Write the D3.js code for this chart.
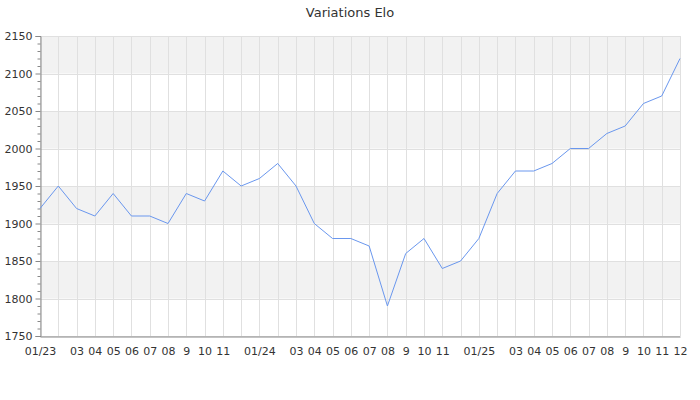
<!DOCTYPE html>
<html><head><meta charset="utf-8">
<script src="https://cdn.jsdelivr.net/npm/d3@7"></script>
<style>body{margin:0;background:#fff;font-family:"DejaVu Sans",sans-serif;}</style>
</head><body>
<svg id="c" width="700" height="400"></svg>
<script>
const months = ["01/23","02/23","03/23","04/23","05/23","06/23","07/23","08/23","09/23","10/23","11/23","12/23",
"01/24","02/24","03/24","04/24","05/24","06/24","07/24","08/24","09/24","10/24","11/24","12/24",
"01/25","02/25","03/25","04/25","05/25","06/25","07/25","08/25","09/25","10/25","11/25","12/25"];
const tickLabels = ["01/23","","03","04","05","06","07","08","9","10","11","",
"01/24","","03","04","05","06","07","08","9","10","11","",
"01/25","","03","04","05","06","07","08","9","10","11","12"];
const elo = [1920,1950,1920,1910,1940,1910,1910,1900,1940,1930,1970,1950,
1960,1980,1950,1900,1880,1880,1870,1790,1860,1880,1840,1850,
1880,1940,1970,1970,1980,2000,2000,2020,2030,2060,2070,2120];
const yTicks = [1750,1800,1850,1900,1950,2000,2050,2100,2150];
const title = "Variations Elo";

const svg = d3.select("#c");
const m = {l:40, r:20, t:36, b:64};
const W = 700, H = 400;
const x = d3.scalePoint().domain(months).range([m.l, W - m.r]);
const y = d3.scaleLinear().domain([1750,2150]).range([H - m.b, m.t]);

// alternating bands: top band (2100-2150) gray
const grayBands = d3.pairs(yTicks).filter((d,i)=> i % 2 === 1);
svg.append("g").selectAll("rect").data(grayBands).join("rect")
  .attr("x", m.l).attr("width", W - m.r - m.l)
  .attr("y", d => y(d[1])).attr("height", d => y(d[0]) - y(d[1]))
  .attr("fill", "#f2f2f2");

// grid
const grid = svg.append("g").attr("stroke","#e0e0e0").attr("stroke-width",1).attr("shape-rendering","crispEdges");
grid.selectAll(".v").data(months).join("line")
  .attr("x1", d => Math.round(x(d))+0.5).attr("x2", d => Math.round(x(d))+0.5)
  .attr("y1", m.t).attr("y2", H - m.b);
grid.selectAll(".h").data(yTicks).join("line")
  .attr("x1", m.l).attr("x2", W - m.r)
  .attr("y1", d => Math.round(y(d))+0.5).attr("y2", d => Math.round(y(d))+0.5);

// y axis
const yAxis = svg.append("g").attr("transform", `translate(${m.l+0.5},0)`)
  .call(d3.axisLeft(y).tickValues(yTicks).tickSize(5).tickFormat(d3.format("d")));
const yMinor = svg.append("g").attr("transform", `translate(${m.l+0.5},0)`)
  .call(d3.axisLeft(y).tickValues(d3.range(1750,2151,10).filter(v => v % 50 !== 0)).tickSize(3).tickFormat(""));
yMinor.select(".domain").remove();
[yAxis, yMinor].forEach(g => {
  g.selectAll("line").attr("stroke","#888");
  g.select(".domain").attr("stroke","#888");
});
yAxis.selectAll("text").attr("font-family","DejaVu Sans").attr("font-size",11).attr("fill","#333").attr("x",-8);

// x axis
const xAxis = svg.append("g").attr("transform", `translate(0,${H - m.b + 0.5})`)
  .call(d3.axisBottom(x).tickSize(0).tickPadding(11).tickFormat((d,i) => tickLabels[i]));
xAxis.select(".domain").attr("stroke","#888");
xAxis.selectAll("text").attr("font-family","DejaVu Sans").attr("font-size",11).attr("fill","#333");

// line
svg.append("path").datum(elo)
  .attr("fill","none").attr("stroke","#6a97ee").attr("stroke-width",1)
  .attr("d", d3.line().x((d,i) => x(months[i])).y(d => y(d)));

// title
svg.append("text").attr("x", 350).attr("y", 17).attr("text-anchor","middle")
  .attr("font-family","DejaVu Sans").attr("font-size",13).attr("fill","#333").text(title);
</script>
</body></html>
